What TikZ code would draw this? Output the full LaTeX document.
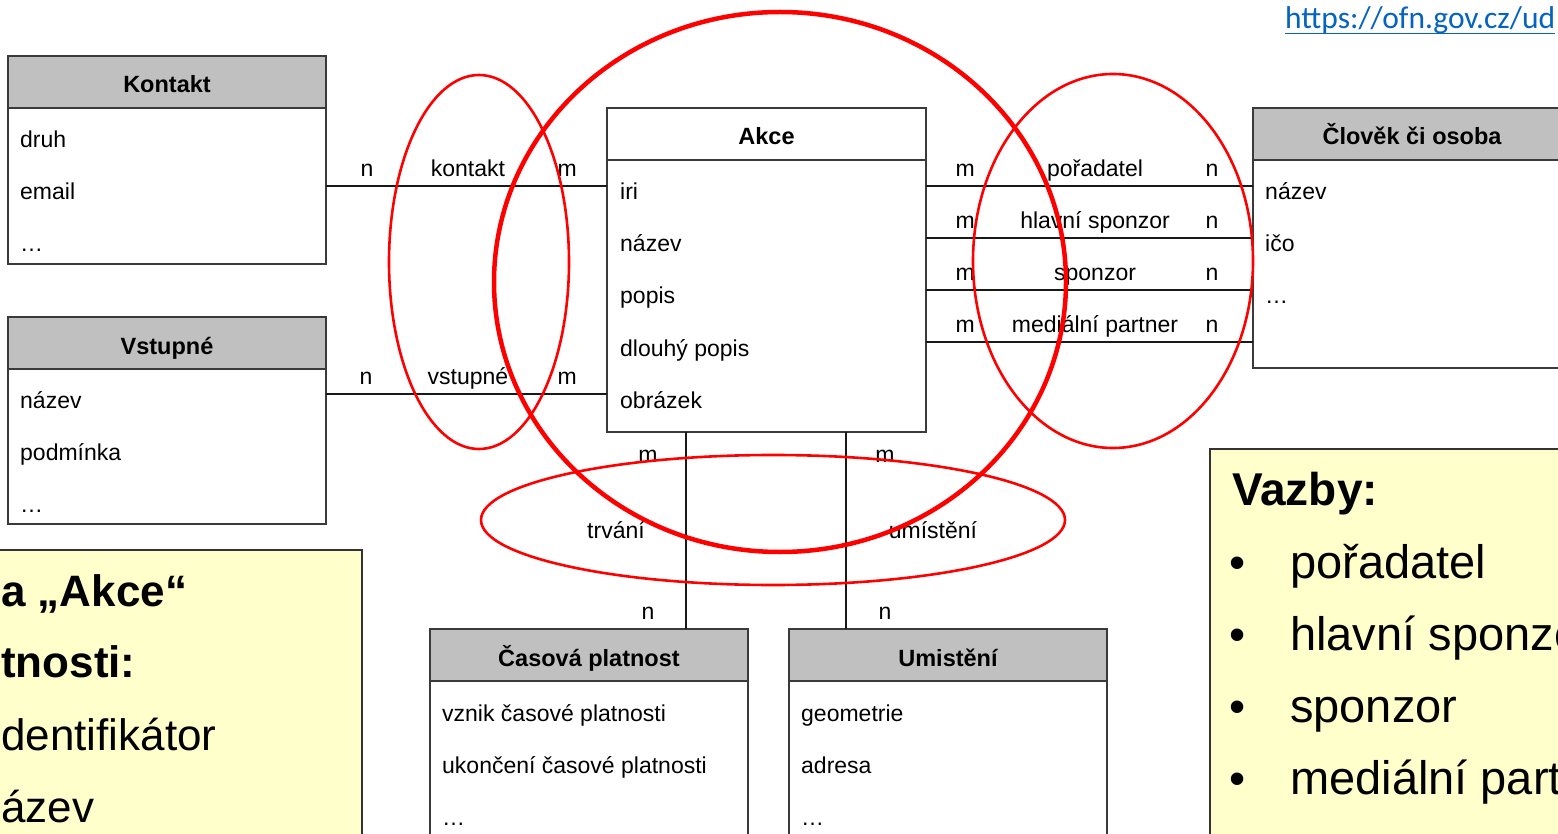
\documentclass[tikz,border=0pt]{standalone}
\usepackage{fontspec}
\setmainfont{Liberation Sans}
\newfontfamily\linkfont{Carlito}
\usetikzlibrary{positioning,calc}

\definecolor{hdrgray}{HTML}{C0C0C0}
\definecolor{boxline}{HTML}{3A3A3A}
\definecolor{notefill}{HTML}{FFFFCC}
\definecolor{linkblue}{HTML}{0563C1}
\definecolor{ringred}{HTML}{FF0000}

\tikzset{
  ent/.style={draw=boxline, line width=1.6pt, outer sep=0pt, inner sep=0pt,
    minimum width=318pt, minimum height=52pt, text height=22pt, text depth=0pt,
    font=\fontsize{23.5}{26}\selectfont\bfseries},
  enthead/.style={ent, fill=hdrgray},
  entbody/.style={draw=boxline, line width=1.6pt, outer sep=0pt, inner sep=0pt,
    minimum width=318pt, fill=white},
  attr/.style={anchor=base west, inner sep=0pt, font=\fontsize{23}{26}\selectfont},
  conn/.style={draw=black!90, line width=1.3pt},
  card/.style={inner sep=0pt, text height=16pt, text depth=5pt,
    font=\fontsize{23}{26}\selectfont},
  ring/.style={draw=ringred, line width=2.6pt},
  bigring/.style={draw=ringred, line width=4.5pt},
  note/.style={draw=black!80, line width=1.3pt, fill=notefill},
  notetext/.style={anchor=base west, inner sep=0pt, font=\fontsize{46}{50}\selectfont},
}

\begin{document}
\begin{tikzpicture}[x=1pt,y=-1pt]
  \path[use as bounding box, clip] (0,0) rectangle (1558,834);
  \fill[white] (0,0) rectangle (1558,834);

  % link
  \node[anchor=base west, inner sep=0pt, text=linkblue,
    font=\linkfont\fontsize{31.5}{34}\selectfont] (url) at (1285,29) {https://ofn.gov.cz/ud};
  \draw[linkblue, line width=1.3pt] ($(url.base west)+(0,4.5)$) -- ($(url.base east)+(0,4.5)$);

  % notes
  \draw[note] (-10,550) rectangle (362,850);
  \node[notetext, font=\fontsize{44}{50}\selectfont\bfseries] (entA) at (1,606) {a „Akce“};
  \node[notetext, font=\fontsize{44}{50}\selectfont\bfseries] (entB) at (1,677) {tnosti:};
  \node[notetext, font=\fontsize{44}{50}\selectfont] (entC) at (1,750) {dentifikátor};
  \node[notetext, font=\fontsize{44}{50}\selectfont] (entD) at (1,822) {ázev};

  \draw[note] (1210,449) rectangle (1570,850);
  \node[notetext, font=\fontsize{46}{50}\selectfont\bfseries] (vazby) at (1232,505) {Vazby:};
  \foreach \b [count=\i from 0] in {pořadatel,hlavní sponzor,sponzor,mediální partner}
    {
      \node[notetext] (bul\i) at (1229,578+\i*72.3) {•};
      \node[notetext, font=\fontsize{47}{50}\selectfont] (vaz\i) at (1290,578+\i*72.3) {\b};
    }

  % entities
  \node[enthead] (kontaktH) at (167,82) {Kontakt};
  \node[entbody, minimum height=156pt, below=0pt of kontaktH] (kontaktB) {};

  \node[enthead] (vstupH) at (167,343) {Vstupné};
  \node[entbody, minimum height=155pt, below=0pt of vstupH] (vstupB) {};

  \node[ent, fill=white, minimum width=319pt] (akceH) at (766.5,134) {Akce};
  \node[entbody, minimum width=319pt, minimum height=272pt, below=0pt of akceH] (akceB) {};

  \node[enthead] (clovekH) at (1412,134) {Člověk či osoba};
  \node[entbody, minimum height=208pt, below=0pt of clovekH] (clovekB) {};

  \node[enthead] (casH) at (589,655) {Časová platnost};
  \node[entbody, minimum height=210pt, below=0pt of casH] (casB) {};

  \node[enthead] (mistoH) at (948,655) {Umistění};
  \node[entbody, minimum height=210pt, below=0pt of mistoH] (mistoB) {};

  % attributes
  \foreach \t [count=\i from 0] in {druh,email,{\ldots}}
    \node[attr] (kontaktA\i) at ($(kontaktB.north west)+(12,40+\i*52)$) {\t};
  \foreach \t [count=\i from 0] in {název,podmínka,{\ldots}}
    \node[attr] (vstupA\i) at ($(vstupB.north west)+(12,39+\i*52)$) {\t};
  \foreach \t [count=\i from 0] in {iri,název,popis,dlouhý popis,obrázek}
    \node[attr] (akceA\i) at ($(akceB.north west)+(13,40+\i*52)$) {\t};
  \foreach \t [count=\i from 0] in {název,ičo,{\ldots}}
    \node[attr] (clovekA\i) at ($(clovekB.north west)+(12,40+\i*52)$) {\t};
  \foreach \t [count=\i from 0] in {vznik časové platnosti,ukončení časové platnosti,{\ldots}}
    \node[attr] (casA\i) at ($(casB.north west)+(12,40+\i*52)$) {\t};
  \foreach \t [count=\i from 0] in {geometrie,adresa,{\ldots}}
    \node[attr] (mistoA\i) at ($(mistoB.north west)+(12,40+\i*52)$) {\t};

  % relations
  \coordinate (kontaktL) at ($(kontaktB.north east)+(0,78)$);
  \draw[conn] (kontaktL) -- (kontaktL -| akceB.west)
    node[card, pos=0.146, above=4pt] (kontaktN) {n}
    node[card, pos=0.505, above=4pt] (kontaktR) {kontakt}
    node[card, pos=0.858, above=4pt] (kontaktM) {m};

  \coordinate (vstupL) at ($(vstupB.north east)+(0,25)$);
  \draw[conn] (vstupL) -- (vstupL -| akceB.west)
    node[card, pos=0.142, above=4pt] (vstupN) {n}
    node[card, pos=0.505, above=4pt] (vstupR) {vstupné}
    node[card, pos=0.858, above=4pt] (vstupM) {m};

  \foreach \rel [count=\i from 0] in {pořadatel,hlavní sponzor,sponzor,mediální partner}
    {
      \coordinate (relL\i) at ($(akceB.north east)+(0,26+\i*52)$);
      \draw[conn] (relL\i) -- (relL\i -| clovekB.west)
        node[card, pos=0.12, above=4pt] (relM\i) {m}
        node[card, pos=0.517, above=4pt] (relR\i) {\rel}
        node[card, pos=0.875, above=4pt] (relN\i) {n};
    }

  \coordinate (trvaniT) at ($(akceB.south)+(-80.5,0)$);
  \draw[conn] (trvaniT) -- (trvaniT |- casH.north);
  \node[card, anchor=base] (trvaniM) at ($(trvaniT)+(-38,30)$) {m};
  \node[card, anchor=base] (trvaniR) at ($(trvaniT)+(-70,106)$) {trvání};
  \node[card, anchor=base] (trvaniN) at ($(trvaniT)+(-38,187)$) {n};

  \coordinate (mistoT) at ($(akceB.south)+(79.5,0)$);
  \draw[conn] (mistoT) -- (mistoT |- mistoH.north);
  \node[card, anchor=base] (mistoM) at ($(mistoT)+(39,30)$) {m};
  \node[card, anchor=base] (mistoR) at ($(mistoT)+(87,106)$) {umístění};
  \node[card, anchor=base] (mistoN) at ($(mistoT)+(39,187)$) {n};

  % rings
  \draw[ring] (479,262) ellipse [x radius=90, y radius=187];
  \draw[ring] (1113,261) ellipse [x radius=140, y radius=187];
  \draw[ring] (773,520) ellipse [x radius=292, y radius=65];
  \draw[bigring] (780,282) ellipse [x radius=286, y radius=270];
\end{tikzpicture}
\end{document}
